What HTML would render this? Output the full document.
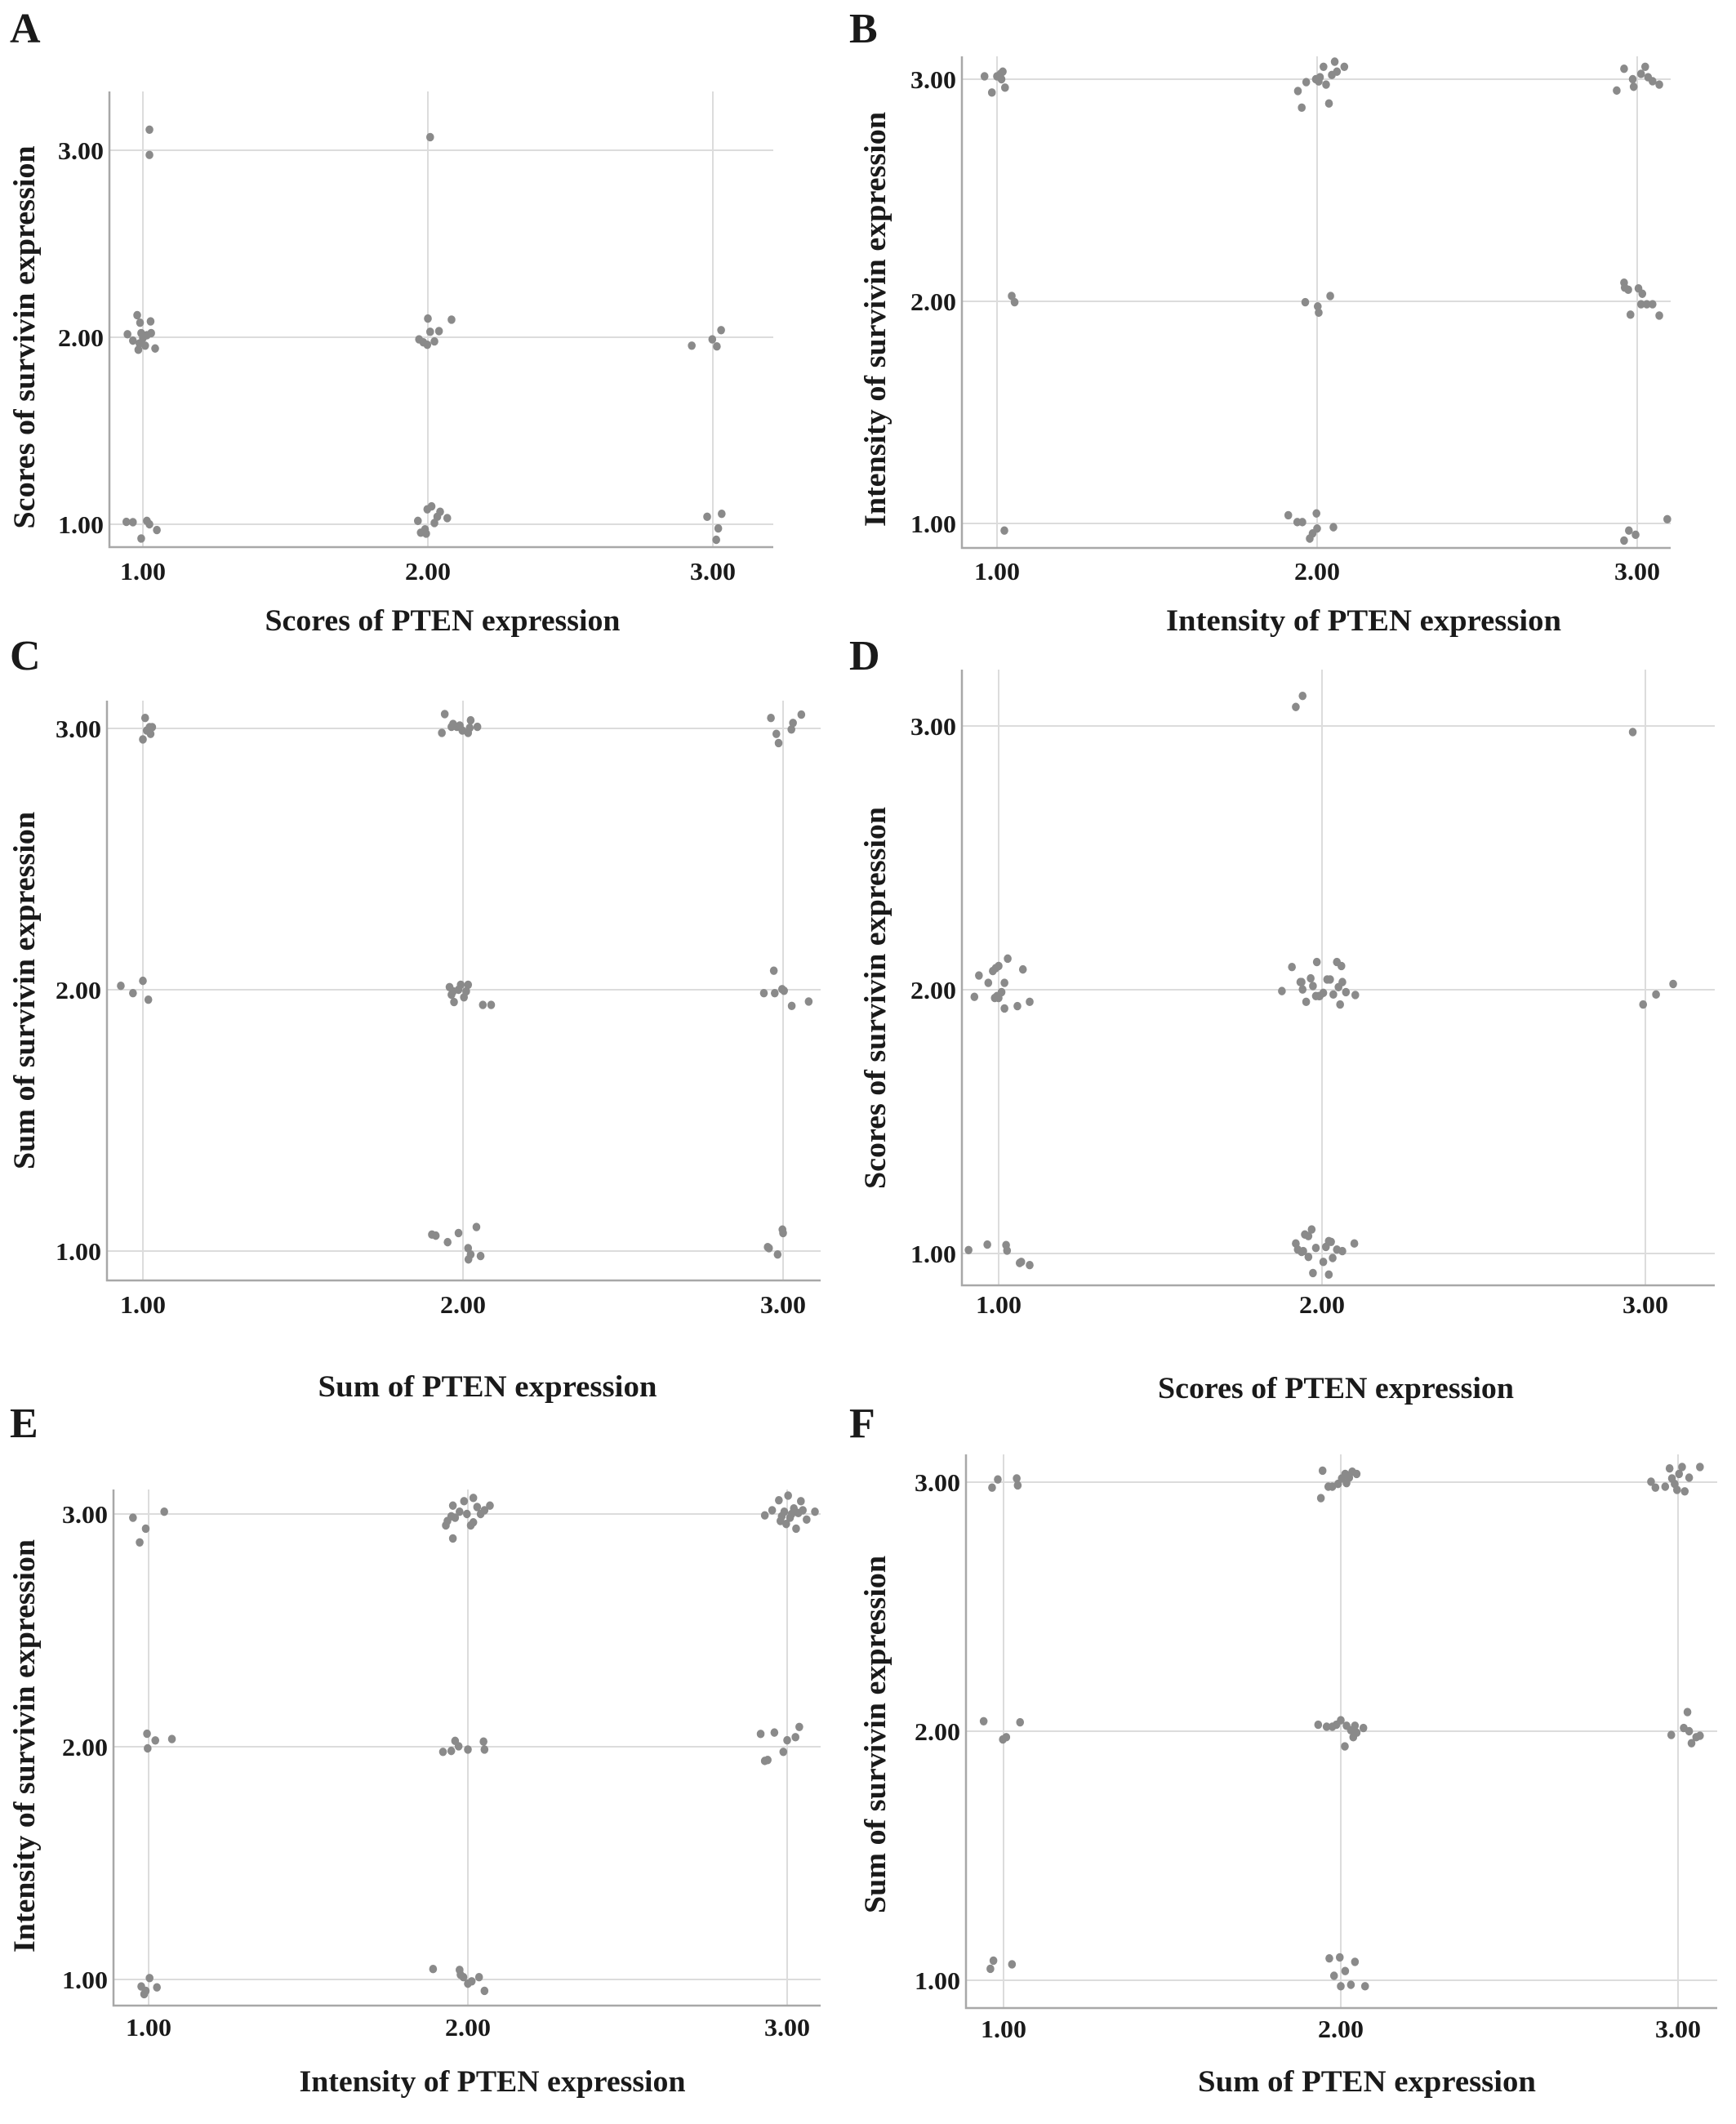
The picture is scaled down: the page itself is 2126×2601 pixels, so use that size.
<!DOCTYPE html>
<html><head><meta charset="utf-8"><style>
html,body{margin:0;padding:0;background:#fff}
svg{display:block}
text{font-family:"Liberation Serif",serif;font-weight:bold;fill:#1a1a1a}
</style></head><body>
<svg id="fig" width="2126" height="2601" viewBox="0 0 2126 2601"></svg>
<script>
// Panel A: Scores PTEN vs Scores survivin
const aX=[1.023,1.023,2.008,0.946,0.965,0.98,0.99,0.994,1.0,0.984,1.008,1.014,1.027,1.029,1.043,0.988,1.969,1.984,2.0,2.008,2.023,2.039,2.083,1.998,2.926,2.998,3.014,3.029,0.942,0.965,0.994,1.014,1.023,1.049,1.965,1.975,1.99,1.998,2.013,2.033,2.043,2.068,1.994,2.023,2.98,3.031,3.019,3.012];
const aY=[3.11,2.975,3.07,2.016,1.982,2.118,2.078,2.022,1.996,1.933,1.955,2.011,2.085,2.022,1.94,1.967,1.989,1.973,2.1,2.029,1.978,2.033,2.094,1.96,1.955,1.989,1.951,2.038,1.013,1.011,0.924,1.018,1.0,0.969,1.018,0.955,0.973,1.08,1.096,1.04,1.067,1.033,0.95,1.007,1.04,1.056,0.978,0.917];
// Panel B
const bX=[0.961,0.984,1.0,1.011,1.018,1.025,1.014,1.046,1.055,1.023,1.94,1.952,1.966,1.996,2.009,2.02,2.028,2.037,2.046,2.055,2.062,2.085,2.005,1.963,2.002,2.005,2.041,1.91,1.938,1.954,1.977,1.986,2.0,1.998,2.051,2.936,2.959,2.986,2.989,3.012,3.025,3.034,3.048,3.069,2.959,2.972,3.004,3.016,3.03,3.012,3.048,2.979,3.069,2.961,2.959,2.974,2.995,3.094];
const bY=[3.013,2.94,3.013,3.024,3.034,2.962,3.0,2.024,1.996,0.968,2.947,2.872,2.987,3.0,3.009,3.056,2.976,2.891,3.019,3.079,3.034,3.056,2.99,1.996,1.977,1.949,2.024,1.037,1.006,1.006,0.932,0.955,0.977,1.045,0.983,2.949,3.047,3.0,2.966,3.024,3.056,3.009,2.991,2.976,2.084,2.052,2.058,2.034,1.987,1.987,1.987,1.94,1.936,2.062,0.923,0.968,0.949,1.019];
// Panel C
const cX=[1.007,1.0,1.012,1.021,1.029,1.024,0.931,0.969,1.0,1.017,1.934,1.943,1.964,1.969,1.981,1.99,2.016,2.021,2.024,2.045,1.998,1.958,1.964,1.972,1.986,1.993,2.003,2.016,2.01,2.062,2.088,1.969,1.903,1.915,1.952,1.986,2.042,2.016,2.017,2.024,2.055,2.962,2.979,2.986,3.026,3.031,3.057,2.94,2.971,2.974,2.997,3.003,3.027,3.08,2.952,2.956,2.983,2.998,3.0];
const cY=[3.04,2.958,2.992,3.005,3.005,2.979,2.015,1.987,2.034,1.962,2.983,3.055,3.006,3.017,3.006,3.011,2.983,3.002,3.031,3.006,2.992,2.01,1.981,1.953,2.0,2.019,1.971,2.019,1.994,1.942,1.942,1.994,1.063,1.059,1.034,1.069,1.092,1.011,0.968,0.987,0.981,3.04,2.979,2.944,2.996,3.021,3.053,1.987,2.073,1.987,2.002,1.996,1.938,1.955,1.015,1.011,0.987,1.082,1.069];
// Panel D
const dX=[1.919,1.94,2.961,0.925,0.939,0.968,0.982,0.991,1.0,0.995,1.009,1.018,1.018,1.028,1.0,1.058,1.075,1.096,0.988,1.876,1.907,1.933,1.94,1.951,1.965,1.972,1.984,1.993,2.004,1.99,2.016,2.025,2.035,2.046,2.051,2.06,2.063,2.056,2.074,2.103,1.981,1.937,2.993,3.033,3.086,0.907,0.965,1.023,1.026,1.065,1.07,1.096,1.919,1.925,1.937,1.947,1.958,1.968,1.972,1.958,2.004,2.012,2.021,2.028,2.021,2.033,2.046,2.063,2.1,1.942,1.981];
const dY=[3.072,3.114,2.977,1.973,2.054,2.026,2.071,2.082,2.09,1.976,1.991,2.026,1.929,2.118,1.969,1.938,2.077,1.954,1.969,1.995,2.086,2.029,2.001,1.954,2.043,2.014,2.105,1.976,1.988,1.976,2.039,2.039,1.982,2.105,2.01,2.09,2.029,1.944,1.991,1.98,1.976,2.029,1.944,1.982,2.022,1.013,1.034,1.032,1.011,0.964,0.968,0.956,1.038,1.015,1.006,1.072,1.066,1.091,0.926,0.987,0.968,1.025,1.047,1.044,0.92,0.983,1.015,1.009,1.038,1.009,1.021];
// Panel E
const eX=[0.951,0.972,0.991,1.049,0.995,0.997,1.021,1.073,0.977,0.986,0.991,1.003,1.026,1.931,1.936,1.953,1.953,1.96,1.974,1.988,1.997,2.009,2.017,2.017,2.029,2.04,2.052,2.069,1.948,1.922,1.948,1.96,1.971,2.0,2.049,2.052,1.891,1.974,1.977,1.986,2.0,2.012,2.035,2.052,2.93,2.953,2.974,2.979,2.991,2.997,3.003,3.009,3.021,3.028,3.035,3.043,3.049,3.061,3.087,2.983,3.014,2.917,2.93,2.939,2.96,2.988,3.0,3.026,3.038];
const eY=[2.984,2.878,2.937,3.01,2.056,1.993,2.027,2.033,0.97,0.937,0.951,1.006,0.966,2.951,2.97,3.036,2.895,2.984,3.01,3.055,3.0,2.951,3.069,2.964,3.03,3.0,3.016,3.036,2.99,1.978,1.982,2.025,2.002,1.988,2.022,1.988,1.045,1.041,1.02,1.01,0.982,0.992,1.01,0.951,2.994,3.016,3.059,2.97,3.01,2.957,3.079,2.984,3.024,2.937,3.004,3.055,3.016,2.976,3.01,2.99,3.0,2.055,1.939,1.943,2.061,1.978,2.028,2.041,2.085];
// Panel F
const fX=[0.966,0.983,1.039,1.042,0.941,0.998,1.008,1.049,0.961,0.97,1.025,1.941,1.946,1.963,1.975,1.992,2.003,2.013,2.025,2.034,2.047,2.017,1.933,1.958,1.975,1.987,2.0,2.012,2.017,2.03,2.037,2.047,2.067,2.042,1.966,1.997,1.98,2.013,2.042,2.0,2.03,2.072,2.92,2.933,2.962,2.975,2.982,2.99,2.997,3.012,3.02,3.033,3.065,3.003,2.98,3.017,3.028,3.033,3.04,3.054,3.065];
const fY=[2.978,3.011,3.015,2.987,2.04,1.967,1.976,2.036,1.046,1.079,1.064,2.936,3.046,2.982,2.982,2.993,3.015,3.033,3.018,3.042,3.033,2.996,2.026,2.018,2.018,2.026,2.044,1.939,2.022,2.004,1.976,1.994,2.013,2.022,1.088,1.092,1.018,1.037,1.074,0.976,0.982,0.976,3.002,2.978,2.982,3.055,3.015,2.993,2.969,3.061,2.963,3.018,3.061,3.033,1.985,2.013,2.077,2.0,1.952,1.976,1.982];
const tickVals=[1,2,3];
const tickLabels=["1.00","2.00","3.00"];

const NS="http://www.w3.org/2000/svg";
const svg=document.getElementById('fig');
function mk(tag,attrs,parent){const e=document.createElementNS(NS,tag);for(const k in attrs)e.setAttribute(k,attrs[k]);(parent||svg).appendChild(e);return e;}

const panels=[
 {id:'a',L:'A',lx:12,ly:52,xs:aX,ys:aY,left:134,right:947,top:112,bottom:670,x1:175,x2:524,y1:642,y2:413,xlY:710,xt:'Scores of PTEN expression',xtX:542,xtY:772,xtW:435,ytX:42,ytY:413,ytW:469,yt:'Scores of survivin expression'},
 {id:'b',L:'B',lx:1040,ly:52,xs:bX,ys:bY,left:1178,right:2046,top:69,bottom:671,x1:1221,x2:1613,y1:641,y2:369,xlY:710,xt:'Intensity of  PTEN expression',xtX:1670,xtY:772,xtW:484,ytX:1084,ytY:391,ytW:508,yt:'Intensity of survivin expression'},
 {id:'c',L:'C',lx:12,ly:820,xs:cX,ys:cY,left:131,right:1005,top:858,bottom:1568,x1:175,x2:567,y1:1532,y2:1212,xlY:1608,xt:'Sum of  PTEN expression',xtX:597,xtY:1710,xtW:415,ytX:42,ytY:1213,ytW:438,yt:'Sum of survivin expression'},
 {id:'d',L:'D',lx:1040,ly:820,xs:dX,ys:dY,left:1178,right:2100,top:820,bottom:1574,x1:1223,x2:1619,y1:1535,y2:1212,xlY:1608,xt:'Scores of PTEN expression',xtX:1636,xtY:1712,xtW:436,ytX:1084,ytY:1222,ytW:468,yt:'Scores of survivin expression'},
 {id:'e',L:'E',lx:12,ly:1760,xs:eX,ys:eY,left:139,right:1005,top:1824,bottom:2456,x1:182,x2:573,y1:2424,y2:2139,xlY:2493,xt:'Intensity of PTEN expression',xtX:603,xtY:2561,xtW:473,ytX:42,ytY:2138,ytW:506,yt:'Intensity of survivin expression'},
 {id:'f',L:'F',lx:1040,ly:1760,xs:fX,ys:fY,left:1183,right:2103,top:1781,bottom:2459,x1:1229,x2:1642,y1:2425,y2:2120,xlY:2495,xt:'Sum of  PTEN expression',xtX:1674,xtY:2561,xtW:414,ytX:1084,ytY:2124,ytW:438,yt:'Sum of survivin expression'}
];

panels.forEach(p=>{
  const g=mk('g',{});
  
  
  const sx=v=>p.x1+(v-1)*(p.x2-p.x1);
  const sy=v=>p.y1-(v-1)*(p.y1-p.y2);
  const lt=mk('text',{x:p.lx,y:p.ly,'font-size':52},g);lt.textContent=p.L;
  
  
  tickVals.forEach((v,i)=>{
    const gl=mk('line',{x1:p.left,x2:p.right,y1:sy(v),y2:sy(v),stroke:'#dcdcdc','stroke-width':2},g);
    
    
    const gv=mk('line',{x1:sx(v),x2:sx(v),y1:p.top,y2:p.bottom,stroke:'#dcdcdc','stroke-width':2},g);
    
    
    const ty=mk('text',{x:p.left-7,y:sy(v)+11,'font-size':31,'text-anchor':'end',textLength:56,lengthAdjust:'spacingAndGlyphs'},g);
    ty.textContent=tickLabels[i];
    
    
    const tx=mk('text',{x:sx(v),y:p.xlY,'font-size':31,'text-anchor':'middle',textLength:56,lengthAdjust:'spacingAndGlyphs'},g);
    tx.textContent=tickLabels[i];
    
    
  });
  const ax=mk('path',{d:`M${p.left},${p.top}V${p.bottom}H${p.right}`,fill:'none',stroke:'#a8a8a8','stroke-width':2.5},g);
  
  
  p.xs.forEach((xv,i)=>{
    const c=mk('ellipse',{cx:sx(xv),cy:sy(p.ys[i]),rx:4.8,ry:5.2,fill:'#8a8a8a'},g);
    
    
  });
  const xt=mk('text',{x:p.xtX,y:p.xtY,'font-size':37,'text-anchor':'middle',textLength:p.xtW,lengthAdjust:'spacingAndGlyphs'},g);
  xt.textContent=p.xt;
  
  
  const yt=mk('text',{x:0,y:0,'font-size':37,'text-anchor':'middle',textLength:p.ytW,lengthAdjust:'spacingAndGlyphs',transform:`translate(${p.ytX},${p.ytY}) rotate(-90)`},g);
  yt.textContent=p.yt;
  
  
});
</script>
</body></html>
